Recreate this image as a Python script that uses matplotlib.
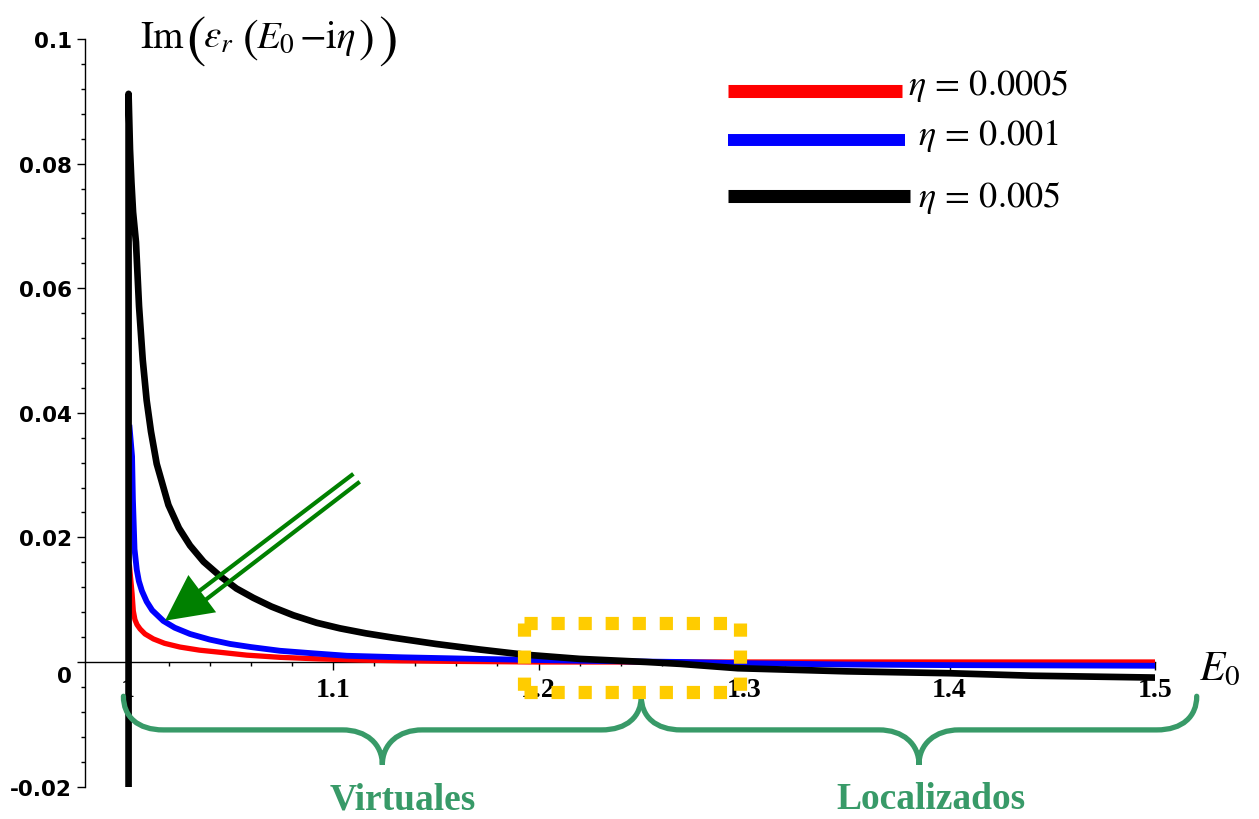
import matplotlib.pyplot as plt
from matplotlib.path import Path
from matplotlib.patches import PathPatch, Polygon
from matplotlib.lines import Line2D

plt.rcParams['mathtext.fontset'] = 'stix'

# Im(eps_r(E0 - i*eta)) read along E0 for three values of eta
e_red = [1.0010, 1.0022, 1.0028, 1.0036, 1.0046, 1.0061, 1.0085, 1.0126, 1.018, 1.0255,
         1.035, 1.045, 1.058, 1.0742, 1.093, 1.1146, 1.133, 1.16, 1.20, 1.30, 1.40, 1.50]
im_red = [0.0152, 0.0110, 0.0082, 0.0068, 0.0060, 0.0053, 0.0045, 0.0037, 0.0030, 0.0024,
          0.0019, 0.00156, 0.0011, 0.00075, 0.0005, 0.0003, 0.0002, 0.0001, 0.0000,
          0.0000, 0.0000, 0.0000]

e_blue = [1.0010, 1.0022, 1.0026, 1.0034, 1.0045, 1.0055, 1.0070, 1.0093, 1.0120, 1.0174,
          1.0230, 1.0304, 1.040, 1.0499, 1.060, 1.0742, 1.090, 1.1067, 1.134, 1.17, 1.22,
          1.27, 1.30, 1.35, 1.40, 1.50]
im_blue = [0.0376, 0.0330, 0.0262, 0.0181, 0.0148, 0.0130, 0.0114, 0.0097, 0.0083, 0.0066,
           0.0055, 0.0045, 0.0036, 0.0029, 0.0024, 0.0018, 0.0014, 0.0010, 0.00075, 0.0005,
           0.0002, 0.0000, -0.0002, -0.0004, -0.0005, -0.0006]

e_black = [1.0005, 1.0005, 1.0012, 1.0019, 1.0027, 1.0041, 1.0056, 1.0074, 1.0093, 1.0114,
           1.0142, 1.0199, 1.0250, 1.0304, 1.0370, 1.045, 1.053, 1.0612, 1.070, 1.0807,
           1.092, 1.1034, 1.116, 1.1293, 1.150, 1.1715, 1.1926, 1.22, 1.2526, 1.269,
           1.297, 1.35, 1.40, 1.44, 1.50]
im_black = [-0.020, 0.0912, 0.0823, 0.0770, 0.0722, 0.0674, 0.0571, 0.0485, 0.0420, 0.0370,
            0.0318, 0.0252, 0.0215, 0.0187, 0.0161, 0.0138, 0.0118, 0.0103, 0.0089, 0.0075,
            0.0063, 0.0054, 0.0046, 0.0039, 0.0029, 0.0020, 0.0012, 0.0005, 0.0000,
            -0.0003, -0.0010, -0.0015, -0.0018, -0.0022, -0.0025]

eta_labels = [r'$\eta\,=\,0.0005$', r'$\eta\,=\,0.001$', r'$\eta\,=\,0.005$']
colors = ['red', 'blue', 'black']

y_ticks = [-0.02, 0, 0.02, 0.04, 0.06, 0.08, 0.1]
y_ticklabels = ['-0.02', '', '0.02', '0.04', '0.06', '0.08', '0.1']
x_ticks = [1.0, 1.1, 1.2, 1.3, 1.4, 1.5]
x_ticklabels = ['1', '1.1', '1.2', '1.3', '1.4', '1.5']

# E0 ranges of the two regions
virtual_range = (0.998, 1.25)
localized_range = (1.25, 1.5203)
zoom_box = (1.1927, 1.2982, -0.00474, 0.00634)

W, H = 1259, 820
fig = plt.figure(figsize=(W / 100, H / 100), dpi=100)
ax = fig.add_axes([85 / W, 1 - 787.6 / H, 1070 / W, 747.6 / H])
ax.set_xlim(0.9793, 1.5)
ax.set_ylim(-0.02, 0.1)


def px(x, y):
    return x / W, 1 - y / H


# curves
ax.plot(e_red, im_red, color='red', lw=3.8, zorder=3)
ax.plot(e_blue, im_blue, color='blue', lw=4.2, zorder=4)
ax.plot(e_black, im_black, color='black', lw=4.8, zorder=5)

# axes in maple style
ax.spines['top'].set_visible(False)
ax.spines['right'].set_visible(False)
ax.spines['bottom'].set_position(('data', 0))
ax.spines['left'].set_linewidth(1)
ax.spines['bottom'].set_linewidth(1)

ax.set_yticks(y_ticks)
ax.set_yticklabels(y_ticklabels, fontsize=15.5, fontweight='bold', family='DejaVu Sans')
ax.set_yticks([i * 0.004 - 0.02 for i in range(31)], minor=True)
ax.set_xticks(x_ticks)
ax.set_xticklabels(x_ticklabels, fontsize=20, fontweight='bold', family='Liberation Serif')
ax.set_xticks([1.0 + i * 0.02 for i in range(26)], minor=True)
ax.tick_params(axis='y', which='major', length=5.8, width=1, pad=3.6)
ax.tick_params(axis='y', which='minor', length=3.1, width=1)
ax.tick_params(axis='x', which='major', length=5.8, width=1, pad=5)
ax.tick_params(axis='x', which='minor', length=2.6, width=1)

# the zero label sits under the E0 axis
ax.annotate('0', xy=(0, 0), xycoords=('axes fraction', 'data'), xytext=(-13, -14),
            textcoords='offset pixels', ha='right', va='center', fontsize=15.5,
            fontweight='bold', family='DejaVu Sans')

# arrow pointing at the small-eta peaks
green = '#008000'
ax.add_patch(Polygon([(1.01825, 0.00663), (1.0296, 0.01396), (1.0431, 0.00798)],
                     closed=True, color=green, zorder=6, lw=0))
ax.plot([1.1091, 1.0343], [0.0300, 0.01124], color=green, lw=3.0, zorder=6)
ax.plot([1.1122, 1.0385], [0.02873, 0.01011], color=green, lw=3.0, zorder=6)

# dotted box around the crossing, one side at a time so each corner gets a dot
x0, x1, y0, y1 = zoom_box
for xs, ys in [([x0, x1], [y1, y1]), ([x1, x1], [y1, y0]),
               ([x0, x1], [y0, y0]), ([x0, x0], [y1, y0])]:
    ax.plot(xs, ys, color='#FFCC00', lw=9.5, linestyle=(0, (1, 1.05)),
            dash_capstyle='butt', zorder=7, clip_on=False)

# braces under the axis
brace_col = '#389a68'


def brace(xa, xb, y_end, y_mid, y_tip, rx):
    xc = (xa + xb) / 2
    verts = [(xa, y_end),
             (xa, y_end + 0.6 * (y_mid - y_end)), (xa + 0.35 * rx, y_mid), (xa + rx, y_mid),
             (xc - rx, y_mid),
             (xc - 0.4 * rx, y_mid), (xc, y_mid + 0.4 * (y_tip - y_mid)), (xc, y_tip),
             (xc, y_mid + 0.4 * (y_tip - y_mid)), (xc + 0.4 * rx, y_mid), (xc + rx, y_mid),
             (xb - rx, y_mid),
             (xb - 0.35 * rx, y_mid), (xb, y_end + 0.6 * (y_mid - y_end)), (xb, y_end)]
    codes = ([Path.MOVETO] + [Path.CURVE4] * 3 + [Path.LINETO] + [Path.CURVE4] * 6
             + [Path.LINETO] + [Path.CURVE4] * 3)
    ax.add_patch(PathPatch(Path(verts, codes), fill=False, edgecolor=brace_col, lw=3.8,
                           clip_on=False, capstyle='round', zorder=6))


brace(virtual_range[0], virtual_range[1], -0.0055, -0.0109, -0.0165, 0.0195)
brace(localized_range[0], localized_range[1], -0.0055, -0.0109, -0.0165, 0.0195)

fig.text(*px(403, 800), 'Virtuales', ha='center', va='center', fontsize=27,
         fontweight='bold', family='Liberation Serif', color=brace_col)
fig.text(*px(931, 800), 'Localizados', ha='center', va='center', fontsize=27,
         fontweight='bold', family='Liberation Serif', color=brace_col)

# vertical axis title, pieced together so the brackets can be tall
title_parts = [(r'$\mathrm{Im}$', 140, 28, False),
               (r'$($', 186, 42, True),
               (r'$\varepsilon_r$', 203, 28, False),
               (r'$($', 242, 34, True),
               (r'$E_0$', 256, 28, False),
               (r'$-\mathrm{i}\eta$', 299, 28, False),
               (r'$)$', 358, 34, True),
               (r'$)$', 378, 42, True)]
for s, xp, size, bracket in title_parts:
    if bracket:
        fig.text(*px(xp, 40), s, ha='left', va='center', fontsize=size)
    else:
        fig.text(*px(xp, 48), s, ha='left', va='baseline', fontsize=size)

fig.text(*px(1199, 680), r'$E_0$', ha='left', va='baseline', fontsize=30)

# legend
leg_y = [91.7, 140.7, 196.7]
leg_x1 = [902, 905, 910]
leg_lw = [9.4, 8.6, 9.4]
txt_x = [908, 918, 918]
txt_base = [95, 145, 207]
for i in range(3):
    fig.add_artist(Line2D([728 / W, leg_x1[i] / W], [1 - leg_y[i] / H] * 2,
                          transform=fig.transFigure, color=colors[i], lw=leg_lw[i],
                          solid_capstyle='butt'))
    fig.text(*px(txt_x[i], txt_base[i]), eta_labels[i], ha='left', va='baseline',
             fontsize=26)

fig.savefig('out.png', dpi=100)
